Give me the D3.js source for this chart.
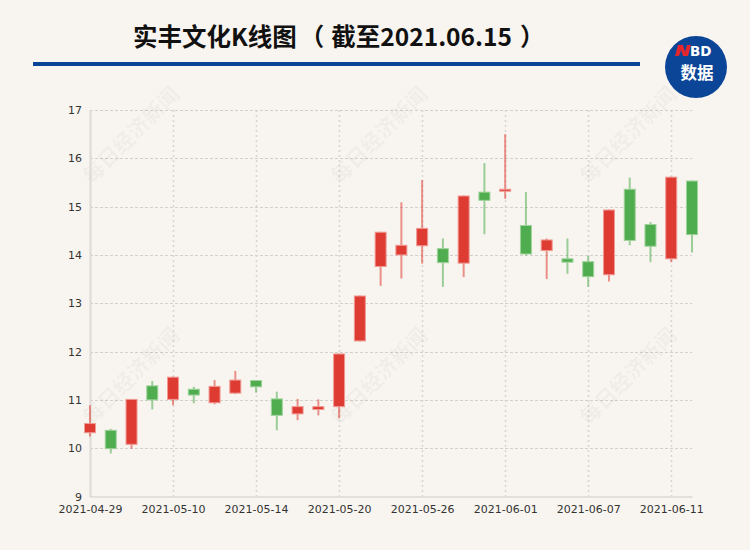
<!DOCTYPE html>
<html><head><meta charset="utf-8">
<script src="https://cdn.jsdelivr.net/npm/d3@7"></script>
<style>
html,body{margin:0;padding:0;background:#f8f5f0;}
svg{display:block;}
</style></head>
<body>
<svg id="c" width="750" height="550"></svg>
<script>
const dates = ["2021-04-29","2021-04-30","2021-05-06","2021-05-07","2021-05-10","2021-05-11","2021-05-12","2021-05-13","2021-05-14","2021-05-17","2021-05-18","2021-05-19","2021-05-20","2021-05-21","2021-05-24","2021-05-25","2021-05-26","2021-05-27","2021-05-28","2021-05-31","2021-06-01","2021-06-02","2021-06-03","2021-06-04","2021-06-07","2021-06-08","2021-06-09","2021-06-10","2021-06-11","2021-06-15"];
const openV  = [10.32,10.37,10.08,11.29,11.01,11.22,10.94,11.14,11.40,11.02,10.71,10.80,10.86,12.22,13.76,14.00,14.19,14.13,13.83,15.30,15.32,14.61,14.09,13.92,13.86,13.59,15.36,14.63,13.92,15.53];
const closeV = [10.51, 9.99,11.01,11.00,11.47,11.10,11.28,11.41,11.27,10.68,10.86,10.86,11.95,13.15,14.47,14.20,14.55,13.84,15.22,15.13,15.36,14.02,14.31,13.85,13.55,14.93,14.30,14.18,15.61,14.42];
const highV  = [10.89,10.40,11.01,11.39,11.48,11.27,11.41,11.60,11.41,11.17,11.02,11.01,11.96,13.16,14.48,15.09,15.55,14.34,15.23,15.90,16.50,15.30,14.34,14.34,13.98,14.94,15.60,14.68,15.62,15.54];
const lowV   = [10.24, 9.89, 9.99,10.80,10.89,10.93,10.91,11.12,11.15,10.37,10.58,10.68,10.62,12.21,13.36,13.51,13.82,13.34,13.54,14.43,15.16,13.99,13.50,13.61,13.34,13.45,14.20,13.85,13.85,14.05];
const yTicks = [9,10,11,12,13,14,15,16,17];
const xTickLabels = ["2021-04-29","2021-05-10","2021-05-14","2021-05-20","2021-05-26","2021-06-01","2021-06-07","2021-06-11"];
const titleParts = ["实丰文化K线图","（","截至2021.06.15","）"];
const watermarkText = "每日经济新闻";

const svg = d3.select("#c");
const W = 750, H = 550;
const L = 90, R = 692, T = 110, B = 496.5;

svg.append("rect").attr("width",W).attr("height",H).attr("fill","#f8f5f0");

const x = d3.scalePoint().domain(dates).range([L,R]).padding(0);
const y = d3.scaleLinear().domain([9,17]).range([B,T]);

// grid horizontal
const gy = svg.append("g");
gy.selectAll("line").data(yTicks.filter(v=>v>9)).join("line")
  .attr("x1",L).attr("x2",R).attr("y1",d=>Math.round(y(d))+0.5).attr("y2",d=>Math.round(y(d))+0.5)
  .attr("stroke","#d3cfca").attr("stroke-width",1).attr("stroke-dasharray","3,2");
// grid vertical
const gx = svg.append("g");
gx.selectAll("line").data(xTickLabels.slice(1)).join("line")
  .attr("x1",d=>Math.round(x(d))+0.5).attr("x2",d=>Math.round(x(d))+0.5).attr("y1",T).attr("y2",B)
  .attr("stroke","#d8d4d0").attr("stroke-width",1.5).attr("stroke-dasharray","2,3");

// watermarks
const wmX = [130,378,627], wmY = [134,375];
const wm = svg.append("g");
wmX.forEach(cx=>wmY.forEach(cy=>{
  wm.append("text").attr("x",0).attr("y",0)
    .attr("transform",`translate(${cx},${cy}) rotate(-45)`)
    .attr("text-anchor","middle").attr("dominant-baseline","central")
    .attr("font-family","'Noto Sans CJK SC'").attr("font-weight","bold").attr("font-size",21)
    .attr("fill","rgba(120,110,100,0.065)").text(watermarkText);
}));

// axes
const yAxis = d3.axisLeft(y).tickValues(yTicks).tickSize(0).tickPadding(8);
const ga = svg.append("g").attr("transform",`translate(${L},0)`).call(yAxis);
ga.select(".domain").attr("stroke","#dcdad6").attr("stroke-width",2);
ga.selectAll("text").attr("font-family","'DejaVu Sans'").attr("font-size",11).attr("fill","#333");

const xAxis = d3.axisBottom(x).tickValues(xTickLabels).tickSize(0).tickPadding(9);
const gb = svg.append("g").attr("transform",`translate(0,${B})`).call(xAxis);
gb.select(".domain").attr("stroke","#cfcbc7").attr("stroke-width",1);
gb.selectAll("text").attr("font-family","'DejaVu Sans'").attr("font-size",11).attr("fill","#333");

// candles
const data = dates.map((d,i)=>({d,o:openV[i],c:closeV[i],h:highV[i],l:lowV[i]}));
const up = "#de3c33", dn = "#4fad4f";
const bw = 11;
const cg = svg.append("g");
const cs = cg.selectAll("g").data(data).join("g");
cs.append("line")
  .attr("x1",d=>x(d.d)).attr("x2",d=>x(d.d))
  .attr("y1",d=>y(d.h)).attr("y2",d=>y(d.l))
  .attr("stroke",d=>d.c>=d.o?up:dn).attr("stroke-opacity",0.55).attr("stroke-width",2);
cs.append("rect")
  .attr("x",d=>x(d.d)-bw/2).attr("width",bw)
  .attr("y",d=>y(Math.max(d.o,d.c)))
  .attr("height",d=>Math.max(2,Math.abs(y(d.o)-y(d.c))))
  .attr("fill",d=>d.c>=d.o?up:dn)
  .attr("stroke",d=>d.c>=d.o?"#f09a94":"#9fd39c").attr("stroke-width",1);

// title
const tt = svg.append("text").attr("x",133).attr("y",46)
  .attr("font-family","'Noto Sans CJK SC'").attr("font-weight","bold").attr("font-size",24.5)
  .attr("fill","#111");
tt.append("tspan").text(titleParts[0]);
tt.append("tspan").attr("dx",3).text(titleParts[1]);
tt.append("tspan").attr("dx",7).text(titleParts[2]);
tt.append("tspan").attr("dx",8).text(titleParts[3]);
svg.append("rect").attr("x",33).attr("y",62).attr("width",607).attr("height",4).attr("fill","#0b4598");

// logo
const lg = svg.append("g");
lg.append("circle").attr("cx",696).attr("cy",67).attr("r",31).attr("fill","#0b4598");
lg.append("path").attr("d","M678,45 L683,45 L685,52 L687,45 L691,45 L688,56 L683,56 L681,50 L679,56 L675,56 Z").attr("fill","#e3262e");
lg.append("text").attr("x",690).attr("y",55.5).attr("font-family","'DejaVu Sans'").attr("font-weight","bold").attr("font-size",13.5).attr("fill","#fff").text("BD");
lg.append("text").attr("x",697).attr("y",78.5).attr("text-anchor","middle").attr("font-family","'Noto Sans CJK SC'").attr("font-weight","bold").attr("font-size",16.5).attr("fill","#fff").text("数据");
</script>
</body></html>
